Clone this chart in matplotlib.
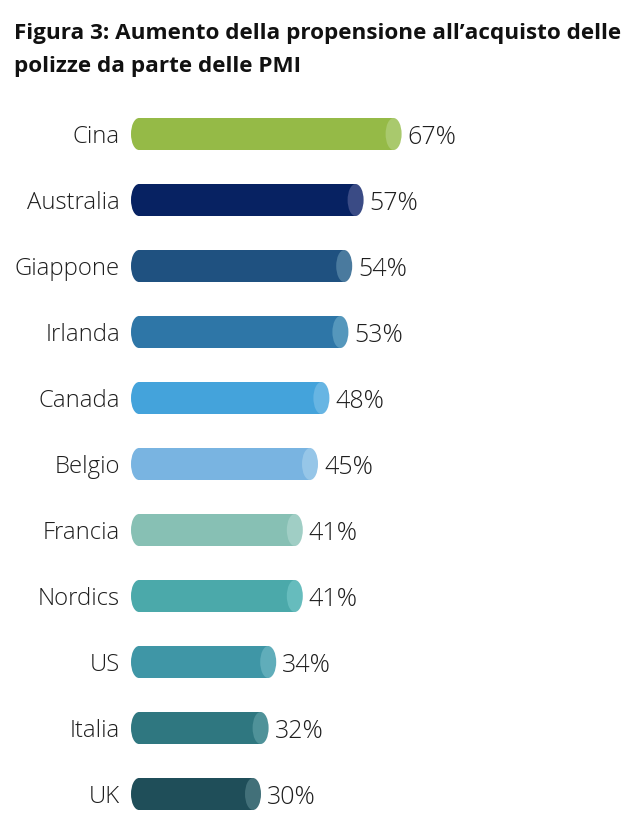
import matplotlib
matplotlib.use("Agg")
import matplotlib.pyplot as plt
from matplotlib.patches import Ellipse
import matplotlib.transforms as mtransforms

plt.rcParams['font.family'] = ['Open Sans', 'DejaVu Sans']

categories = ["Cina", "Australia", "Giappone", "Irlanda", "Canada", "Belgio",
              "Francia", "Nordics", "US", "Italia", "UK"]
values = [67, 57, 54, 53, 48, 45, 41, 41, 34, 32, 30]
value_labels = ["67%", "57%", "54%", "53%", "48%", "45%", "41%", "41%", "34%", "32%", "30%"]
body_colors = ["#95BA47", "#072262", "#1F5180", "#2E76A7", "#44A3DB", "#79B4E1",
               "#87C0B4", "#4BA9AA", "#3F96A6", "#2F7780", "#1F4E59"]
cap_colors = ["#A9C96D", "#3A4B85", "#4A7A9E", "#5597BC", "#67B5E3", "#96C6E8",
              "#A0CEC5", "#66BCBD", "#60ADBA", "#4F9299", "#427079"]
title = "Figura 3: Aumento della propensione all\u2019acquisto delle\npolizze da parte delle PMI"

W, H = 640, 832
fig = plt.figure(figsize=(W / 100, H / 100), dpi=100)
px_per_unit = 3.8
ax_left_px = 139
ax_w_px = W - ax_left_px
ax = fig.add_axes([ax_left_px / W, 5 / H, ax_w_px / W, 726 / H])
ax.set_xlim(0, ax_w_px / px_per_unit)
ax.set_ylim(len(categories) - 0.5, -0.5)
ax.axis("off")

bar_h = 0.485
cap_w = 16 / px_per_unit
text_color = "#1e1e1e"

for i, (cat, v, lab, bc, cc) in enumerate(zip(categories, values, value_labels, body_colors, cap_colors)):
    ax.barh(i, v, height=bar_h, color=bc, edgecolor="none", zorder=2)
    ax.add_patch(Ellipse((0, i), cap_w, bar_h, facecolor=bc, edgecolor="none",
                         zorder=2, clip_on=False))
    ax.add_patch(Ellipse((v, i), cap_w, bar_h, facecolor=cc, edgecolor="none",
                         zorder=3, clip_on=False))
    off_r = mtransforms.offset_copy(ax.transData, fig=fig, x=14, y=0, units="dots")
    ax.text(v, i, lab, transform=off_r, ha="left", va="center_baseline",
            fontsize=18, color=text_color, fontweight="light")
    off_l = mtransforms.offset_copy(ax.transData, fig=fig, x=-19, y=0, units="dots")
    ax.text(0, i, cat, transform=off_l, ha="right", va="center_baseline",
            fontsize=17.2, color=text_color, fontweight="light", clip_on=False)

fig.text(14 / W, 1 - 23 / H, title, ha="left", va="top", fontsize=16.2,
         fontweight="bold", color="#111111", linespacing=1.75)

fig.savefig("out.png", dpi=100, facecolor="white")
